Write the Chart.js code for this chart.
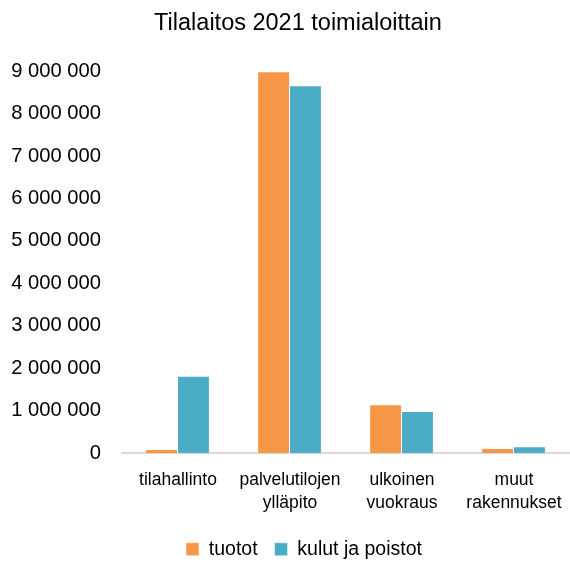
<!DOCTYPE html>
<html>
<head>
<meta charset="utf-8">
<script src="https://cdn.jsdelivr.net/npm/chart.js@4"></script>
<style>
  html, body { margin: 0; padding: 0; background: #fff; }
  #wrap { width: 570px; height: 570px; }
</style>
</head>
<body>
<div id="wrap"><canvas id="chartTilalaitos"></canvas></div>
<script>
// data
const categories = [
  'tilahallinto',
  ['palvelutilojen', 'ylläpito'],
  ['ulkoinen', 'vuokraus'],
  ['muut', 'rakennukset']
];
const tuotot = [95000, 9000000, 1150000, 120000];
const kulutJaPoistot = [1820000, 8670000, 990000, 160000];
const seriesNames = ['tuotot', 'kulut ja poistot'];

Chart.defaults.font.family = '"Liberation Sans", Arial, sans-serif';
Chart.defaults.color = '#000';

// "9 000 000" style numbers
function fmt(v) {
  return String(v).replace(/\B(?=(\d{3})+(?!\d))/g, ' ');
}

// title and legend sit a bit right of the canvas centre in the original
const nudge = {
  id: 'nudge',
  afterLayout(chart) {
    if (chart.titleBlock) chart.titleBlock.left += 26;
    if (chart.legend) chart.legend.left += 38;
  }
};

const ctx = document.getElementById('chartTilalaitos');
new Chart(ctx, {
  type: 'bar',
  data: {
    labels: categories,
    datasets: [
      { label: seriesNames[0], data: tuotot, backgroundColor: '#F79646', borderColor: '#ffffff', borderWidth: { top: 1, left: 0, right: 1, bottom: 0 } },
      { label: seriesNames[1], data: kulutJaPoistot, backgroundColor: '#4BACC6', borderColor: '#ffffff', borderWidth: { top: 1, left: 0, right: 1, bottom: 0 } }
    ]
  },
  plugins: [nudge],
  options: {
    responsive: true,
    maintainAspectRatio: false,
    animation: false,
    layout: { padding: { left: 0, right: 0, top: 5, bottom: 1 } },
    datasets: {
      bar: { categoryPercentage: 0.57, barPercentage: 1 }
    },
    scales: {
      x: {
        grid: { display: false },
        border: { color: '#d9d9d9', width: 2 },
        ticks: { font: { size: 17.5, lineHeight: 1.3 }, maxRotation: 0, autoSkip: false, padding: 8 }
      },
      y: {
        min: 0,
        max: 9000000,
        grid: { display: false, drawTicks: false },
        border: { display: false },
        afterFit: function (scale) { scale.width = 122; },
        ticks: {
          stepSize: 1000000,
          font: { size: 20.2 },
          padding: 21,
          callback: function (v) { return fmt(v); }
        }
      }
    },
    plugins: {
      title: {
        display: true,
        text: 'Tilalaitos 2021 toimialoittain',
        font: { size: 23.5, weight: 'normal' },
        padding: { top: 4, bottom: 34 }
      },
      legend: {
        position: 'bottom',
        labels: { boxWidth: 13, boxHeight: 13, font: { size: 19.5 }, padding: 17 }
      },
      tooltip: { enabled: false }
    }
  }
});
</script>
</body>
</html>
